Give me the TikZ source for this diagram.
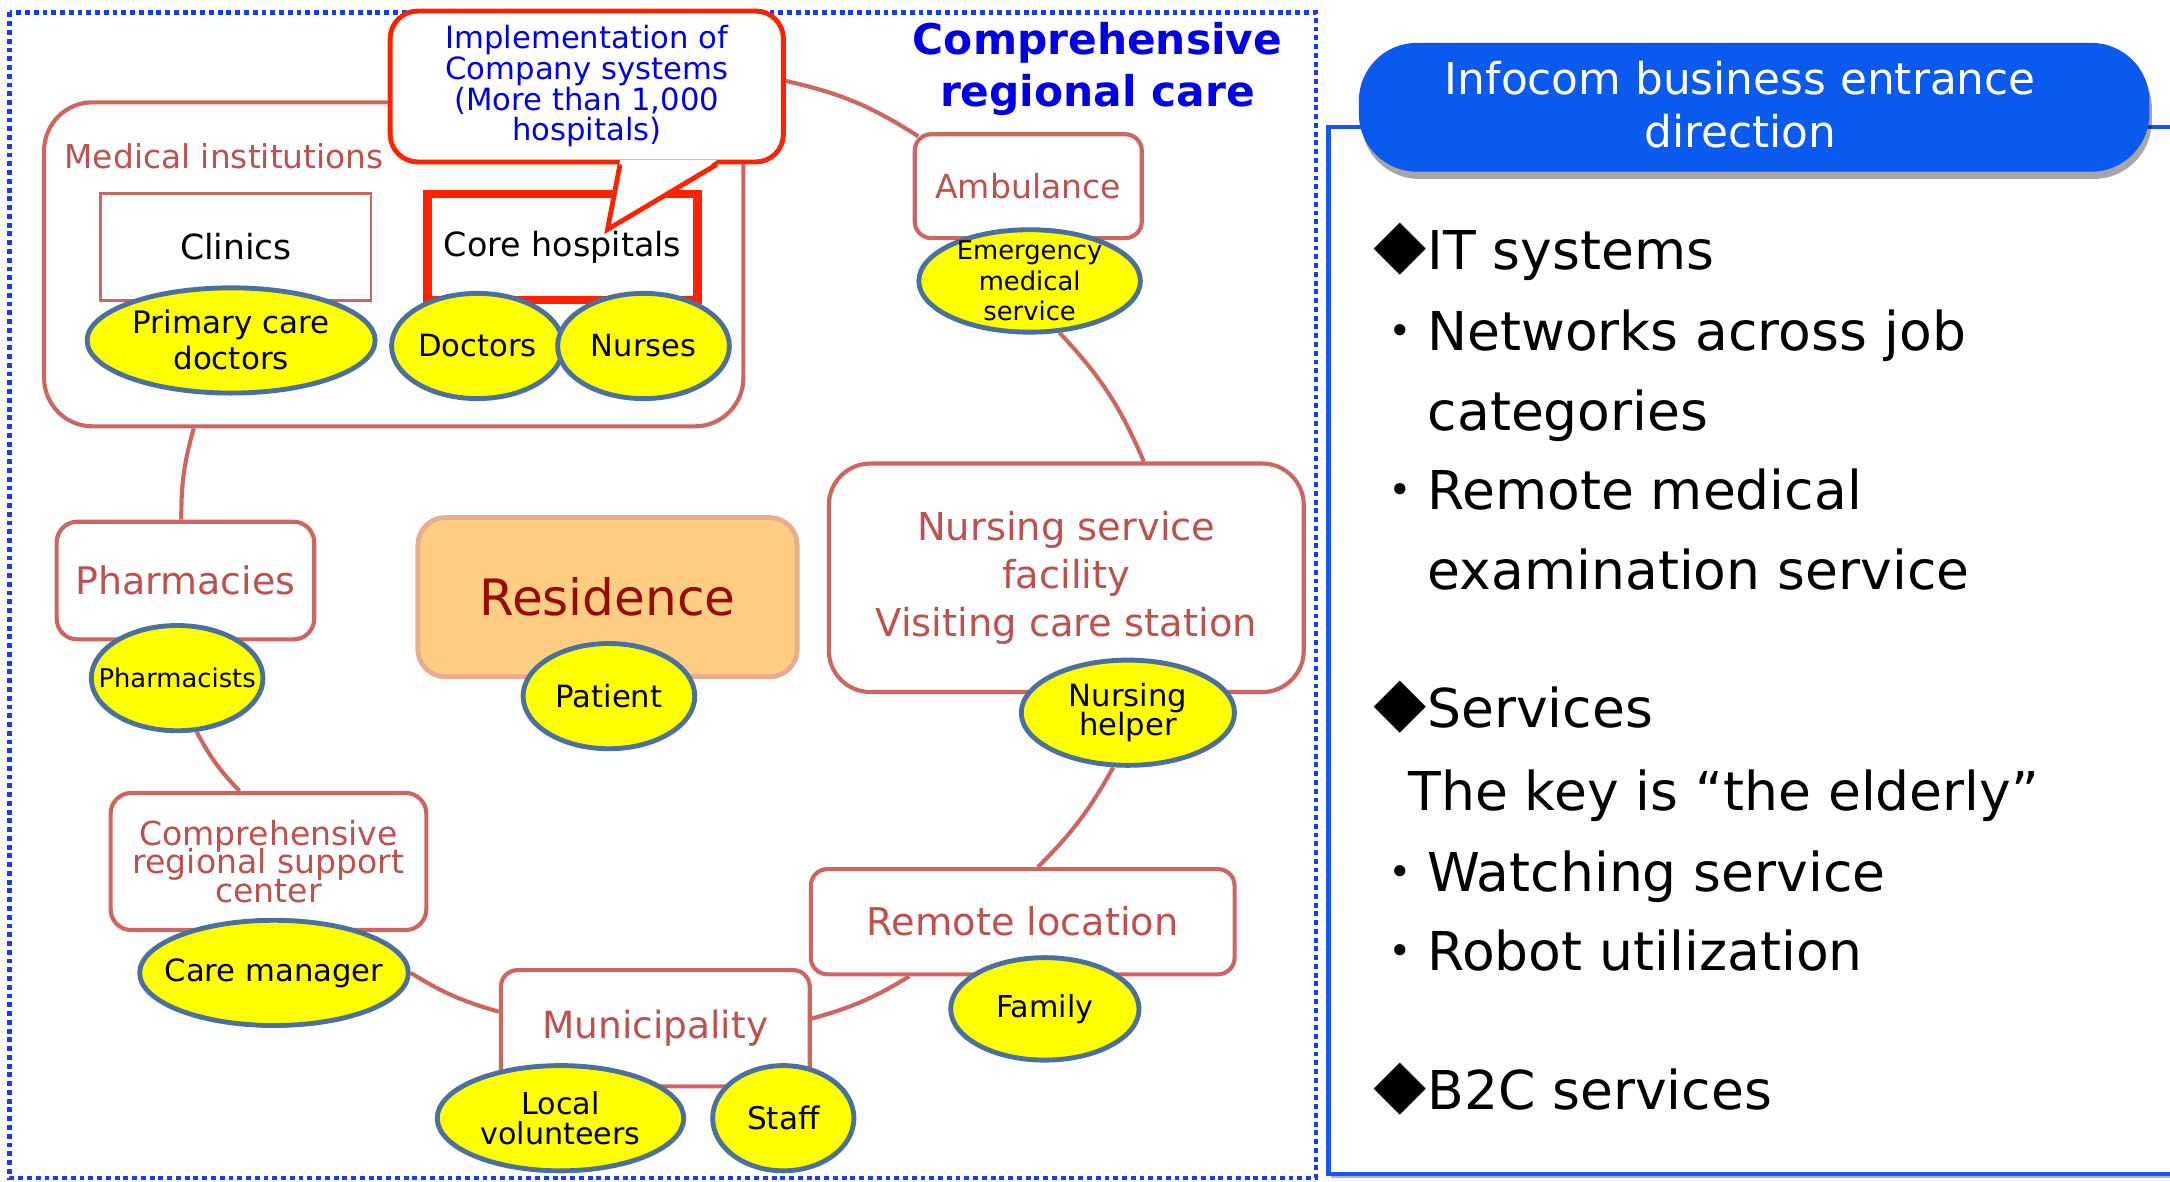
\documentclass[tikz,border=0pt]{standalone}
\usepackage{fontspec}
\setmainfont{DejaVu Sans}
\newfontfamily\cjk{Noto Sans CJK JP}
\usetikzlibrary{shapes.geometric,calc,shadows}
\definecolor{boxred}{RGB}{205,102,96}
\definecolor{txtred}{RGB}{192,80,77}
\definecolor{hotred}{RGB}{255,34,0}
\definecolor{elyellow}{RGB}{255,255,0}
\definecolor{elblue}{RGB}{74,112,158}
\definecolor{dotblue}{RGB}{20,60,255}
\definecolor{titleblue}{RGB}{0,0,230}
\definecolor{hdrblue}{RGB}{10,90,240}
\definecolor{panelblue}{RGB}{25,85,245}
\definecolor{resfill}{RGB}{255,206,130}
\definecolor{resdraw}{RGB}{232,172,145}
\definecolor{restext}{RGB}{150,10,0}
\newcommand\fsz[2]{\fontsize{#1}{#2}\selectfont\lineskiplimit=-20pt\lineskip=0pt\relax}

\begin{document}
\begin{tikzpicture}[x=0.01cm,y=-0.01cm,
 place/.style={draw=boxred, line width=0.85pt, fill=white, rounded corners=#1, inner sep=0pt, text=txtred, align=center},
 place/.default=0.15cm,
 plain/.style={draw=boxred, line width=0.6pt, fill=white, inner sep=0pt},
 role/.style={ellipse, draw=elblue, line width=1pt, fill=elyellow, inner sep=0pt},
 rl/.style={inner sep=0pt, align=center},
 link/.style={draw=boxred, line width=0.85pt},
 rtext/.style={anchor=base west, inner sep=0pt, font=\fsz{11}{16.5}},
]
\useasboundingbox (0,0) rectangle (1568,854);

% outer dotted frame
\draw[dotblue, line width=0.9pt, dash pattern=on 1pt off 0.8pt] (7,9) rectangle (951,851);

% medical institutions
\node[place=0.35cm, minimum width=5.05cm, minimum height=2.34cm] (med) at (284.5,191) {};
\node[text=txtred, inner sep=0pt, font=\fsz{6.75}{8}] (medl) at (162,113) {Medical institutions};
\node[plain, minimum width=1.95cm, minimum height=0.77cm, font=\fsz{7.1}{8}] (clin) at (170.5,178.5) {Clinics};
\node[draw=hotred, line width=1.7pt, fill=white, inner sep=0pt, minimum width=1.95cm, minimum height=0.77cm, font=\fsz{6.85}{8}] (core) at (406.5,178.5) {Core hospitals};

% callout
\node[draw=hotred, line width=1pt, fill=white, rounded corners=0.2cm, minimum width=2.84cm, minimum height=1.09cm, text=titleblue, align=center, font=\fsz{6.3}{6.3}, inner sep=0pt] (call) at (424,62.5) {Implementation of\\Company systems\\(More than 1,000\\hospitals)};
\fill[white] ($(call.south)+(24,-3)$) -- ($(call.south)+(94,-3)$) -- ($(call.south)+(15,47)$) -- cycle;
\draw[hotred, line width=1pt, line join=miter] ($(call.south)+(24,0)$) -- ($(call.south)+(15,47)$) -- ($(call.south)+(94,0)$);

\node[role, minimum width=2.08cm, minimum height=0.76cm, label={[rl, font=\fsz{6.36}{7.4}]center:{Primary care\\doctors}}] (pcd) at (167,246) {};
\node[role, minimum width=1.24cm, minimum height=0.76cm, label={[rl, font=\fsz{6.3}{7.4}]center:Doctors}] (doc) at (345,250) {};
\node[role, minimum width=1.24cm, minimum height=0.76cm, label={[rl, font=\fsz{6.26}{7.4}]center:Nurses}] (nur) at (465,250) {};

% title
\node[text=titleblue, font=\bfseries\fsz{8.7}{10.8}, align=center, inner sep=0pt] (title) at (793,50) {Comprehensive\\regional care};

% ambulance
\node[place=0.12cm, minimum width=1.64cm, minimum height=0.75cm, font=\fsz{6.8}{8}] (amb) at (743,134.5) {Ambulance};
\node[role, minimum width=1.6cm, minimum height=0.74cm, label={[rl, font=\fsz{5.3}{6.3}]center:{Emergency\\medical\\service}}] (ems) at (744,203) {};

% nursing service facility
\node[place=0.3cm, minimum width=3.43cm, minimum height=1.65cm, font=\fsz{7.9}{9.9}] (nsf) at (770.5,417.5) {Nursing service\\facility\\Visiting care station};
\node[role, minimum width=1.54cm, minimum height=0.76cm, label={[rl, font=\fsz{6.3}{6}]center:{Nursing\\helper}}] (nh) at (815,515) {};

% remote location
\node[place=0.12cm, minimum width=3.06cm, minimum height=0.76cm, font=\fsz{7.86}{9}] (rem) at (739,666) {Remote location};
\node[role, minimum width=1.36cm, minimum height=0.74cm, label={[rl, font=\fsz{6.2}{7}]center:Family}] (fam) at (755,729) {};

% municipality
\node[place=0.12cm, minimum width=2.23cm, minimum height=0.84cm, font=\fsz{7.7}{9}] (mun) at (473.5,743) {Municipality};
\node[role, minimum width=1.78cm, minimum height=0.76cm, label={[rl, font=\fsz{6.2}{6}]center:{Local\\volunteers}}] (lv) at (405,808) {};
\node[role, minimum width=1.02cm, minimum height=0.76cm, label={[rl, font=\fsz{6.4}{7}]center:Staff}] (stf) at (566,808) {};

% comprehensive regional support center
\node[place=0.15cm, minimum width=2.28cm, minimum height=0.99cm, font=\fsz{6.8}{5.8}] (crs) at (194,622.5) {Comprehensive\\regional support\\center};
\node[role, minimum width=1.94cm, minimum height=0.76cm, label={[rl, font=\fsz{6.3}{7}]center:Care manager}] (cm) at (198,703) {};

% pharmacies
\node[place=0.15cm, minimum width=1.86cm, minimum height=0.85cm, font=\fsz{7.8}{9}] (pha) at (134,419.5) {Pharmacies};
\node[role, minimum width=1.24cm, minimum height=0.76cm, label={[rl, font=\fsz{5.3}{6}]center:Pharmacists}] (pst) at (128,490) {};

% residence
\node[draw=resdraw, line width=1pt, fill=resfill, rounded corners=0.2cm, minimum width=2.74cm, minimum height=1.15cm, text=restext, font=\fsz{10.3}{12}] (res) at (439,431.5) {Residence};
\node[role, minimum width=1.24cm, minimum height=0.76cm, label={[rl, font=\fsz{6.3}{7}]center:Patient}] (pat) at (440,503) {};

% connectors of the ring
\draw[link] ($(call.east)+(0,-4)$) to[bend left=10] ($(amb.north west)+(4,3)$);
\draw[link] (ems.-60) to[bend left=10] ($(nsf.north)+(56,0)$);
\draw[link] (nh.-105) to[bend left=8] ($(rem.north)+(11,0)$);
\draw[link] ($(rem.south)+(-82,0)$) to[bend left=8] ($(mun.east)+(0,-7)$);
\draw[link] ($(mun.west)+(0,-12)$) to[bend left=8] (cm.east);
\draw[link] ($(crs.north)+(-21,0)$) to[bend left=8] (pst.-70);
\draw[link] ($(pha.north)+(-3,0)$) to[bend left=8] ($(med.south)+(-144.5,0)$);

% right panel
\node[draw=panelblue, fill=white, line width=0.9pt, minimum width=6.4cm, minimum height=7.56cm, inner sep=0pt,
      drop shadow={shadow xshift=0.6pt, shadow yshift=-0.8pt, opacity=0.3, fill=black}] (panel) at (1280,470) {};
\node[fill=hdrblue, rounded corners=0.42cm, minimum width=5.71cm, minimum height=0.93cm, inner sep=0pt,
      drop shadow={shadow xshift=0.5pt, shadow yshift=-1.5pt, opacity=0.35, fill=black},
      label={[rl, text=white, font=\fsz{9}{10.8}, xshift=-0.1cm, yshift=0.02cm]center:{Infocom business entrance\\direction}}] (hdr) at (1267.5,77.5) {};

\node[rtext] (r1) at (992,195) {{\cjk ◆}IT systems};
\node[rtext] (r2) at (992,253) {{\cjk ・}Networks across job};
\node[rtext] (r3) at (1031,311) {categories};
\node[rtext] (r4) at (992,368) {{\cjk ・}Remote medical};
\node[rtext] (r5) at (1031,426) {examination service};
\node[rtext] (r6) at (992,526) {{\cjk ◆}Services};
\node[rtext] (r7) at (1017,586) {The key is “the elderly”};
\node[rtext] (r8) at (992,644) {{\cjk ・}Watching service};
\node[rtext] (r9) at (992,701) {{\cjk ・}Robot utilization};
\node[rtext] (r10) at (992,802) {{\cjk ◆}B2C services};
\end{tikzpicture}
\end{document}
